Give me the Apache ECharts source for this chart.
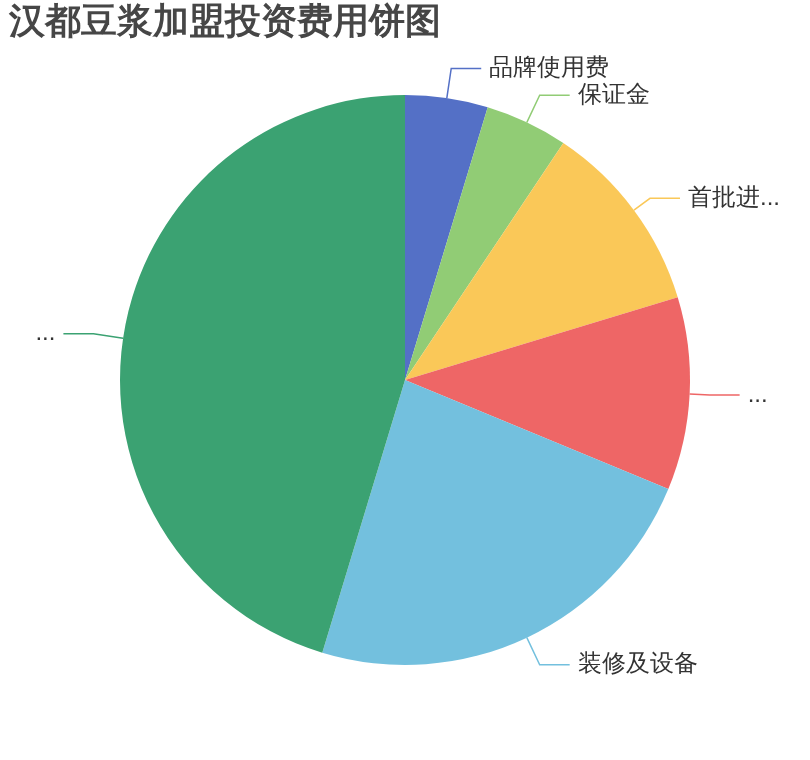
<!DOCTYPE html>
<html>
<head>
<meta charset="utf-8">
<script src="https://cdn.jsdelivr.net/npm/echarts@6/dist/echarts.min.js"></script>
<style>
html,body{margin:0;padding:0;background:#fff;}
#main{width:810px;height:760px;}
</style>
</head>
<body>
<div id="main"></div>
<script>
var titleText = '汉都豆浆加盟投资费用饼图';
var categories = ['品牌使用费', '保证金', '首批进货费', '店铺租金及人员工资', '装修及设备', '流动资金及其他费用'];
var values = [3, 3, 7, 7, 15, 29];
var colors = ['#5470c6', '#91cc75', '#fac858', '#ee6666', '#73c0de', '#3ba272'];

// per-slice label line length (styling only)
var lineLengths = [30, 30, 20, 20, 30, 30];

var chart = echarts.init(document.getElementById('main'));
chart.setOption({
  color: colors,
  animation: false,
  title: {
    text: titleText,
    left: 4,
    top: 0,
    textStyle: { fontSize: 36, fontWeight: 'bold', color: '#464646' }
  },
  series: [{
    type: 'pie',
    center: ['50%', '50%'],
    radius: '75%',
    startAngle: 90,
    clockwise: true,
    data: categories.map(function (n, i) {
      return { name: n, value: values[i], labelLine: { length: lineLengths[i] } };
    }),
    itemStyle: { borderWidth: 0 },
    label: {
      show: true,
      fontSize: 24,
      color: '#333',
      bleedMargin: 23,
      distanceToLabelLine: 8
    },
    labelLine: { show: true, length: 30, length2: 30, lineStyle: { width: 1.5 } },
    emphasis: { disabled: true }
  }]
});
</script>
</body>
</html>
